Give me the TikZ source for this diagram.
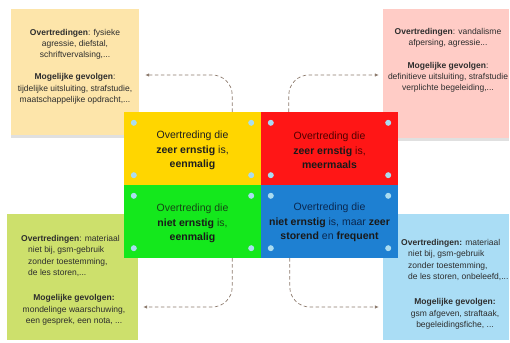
\documentclass[tikz,border=0pt]{standalone}
\usepackage{fontspec}
\setmainfont{Liberation Sans}
\usetikzlibrary{arrows.meta,shadows}
\definecolor{tlc}{RGB}{253,229,170}
\definecolor{trc}{RGB}{255,204,198}
\definecolor{blc}{RGB}{205,224,108}
\definecolor{brc}{RGB}{170,221,245}
\definecolor{yel}{RGB}{255,214,0}
\definecolor{red1}{RGB}{255,22,22}
\definecolor{grn}{RGB}{20,232,28}
\definecolor{blu}{RGB}{30,128,210}
\definecolor{dotc}{RGB}{170,220,240}
\definecolor{arr}{RGB}{140,122,108}
\definecolor{txt}{RGB}{45,45,45}
\begin{document}
\begin{tikzpicture}[x=1pt,y=1pt,
  sidebox/.style={minimum width=#1, inner sep=0pt, draw=none},
  shad/.style={drop shadow={shadow xshift=0pt,shadow yshift=-3pt,opacity=0.2,fill=black!60}},
  cell/.style={minimum width=137pt, minimum height=73pt, inner sep=0pt, draw=none},
  celltext/.style={align=center, font=\fontsize{10.5}{14.5}\selectfont, inner sep=0pt},
  sidetext/.style={font=\fontsize{8.5}{11.2}\selectfont, text=txt, inner sep=0pt},
  dot/.style={circle, fill=dotc, minimum size=6pt, inner sep=0pt},
  conn/.style={arr, dash pattern=on 3.5pt off 2.5pt, line width=0.7pt, rounded corners=20pt, -{Latex[length=4pt,width=3.5pt]}},
]
\useasboundingbox (0,0) rectangle (510,342);
% side boxes
\node[sidebox=128pt, minimum height=126pt, fill=tlc, shad] (tl) at (75,270) {};
\node[sidebox=126pt, minimum height=129pt, fill=trc, shad] (tr) at (446,268.5) {};
\node[sidebox=131pt, minimum height=126pt, fill=blc] (bl) at (72.5,65) {};
\node[sidebox=126pt, minimum height=126pt, fill=brc] (br) at (446,65) {};
% cells
\node[cell, fill=yel] (yc) at (192.5,193.5) {};
\node[cell, fill=red1] (rc) at (329.5,193.5) {};
\node[cell, fill=grn] (gc) at (192.5,120.5) {};
\node[cell, fill=blu] (bc) at (329.5,120.5) {};
% dots
\foreach \c in {yc,rc,gc,bc}{
  \node[dot] (\c-a) at ([xshift=10pt,yshift=-11pt]\c.north west) {};
  \node[dot] (\c-b) at ([xshift=-10pt,yshift=-11pt]\c.north east) {};
  \node[dot] (\c-c) at ([xshift=10pt,yshift=10pt]\c.south west) {};
  \node[dot] (\c-d) at ([xshift=-10pt,yshift=10pt]\c.south east) {};
}
% cell texts
\node[celltext, text=black!88] (yt) at ([yshift=-2pt]yc.center) {Overtreding die\\\textbf{zeer ernstig} is,\\\textbf{eenmalig}};
\node[celltext, text={rgb,255:red,80;green,0;blue,0}] (rt) at ([yshift=-2pt]rc.center) {Overtreding die\\\textbf{\color{black!90}zeer ernstig} is,\\\textbf{\color{black!90}meermaals}};
\node[celltext, text={rgb,255:red,20;green,70;blue,20}] (gt) at ([yshift=-2pt]gc.center) {Overtreding die\\\textbf{\color{black!90}niet ernstig} is,\\\textbf{\color{black!90}eenmalig}};
\node[celltext, text={rgb,255:red,10;green,40;blue,80}] (bt) at ([yshift=-1pt]bc.center) {Overtreding die\\\textbf{\color{black!90}niet ernstig} is, maar \textbf{\color{black!90}zeer}\\\textbf{\color{black!90}storend} en \textbf{\color{black!90}frequent}};
% side texts
\node[sidetext, align=center] (tlt) at (75,275.5) {\textbf{Overtredingen}: fysieke\\agressie, diefstal,\\schriftvervalsing,...\\[11.2pt]\textbf{Mogelijke gevolgen}:\\tijdelijke uitsluiting, strafstudie,\\maatschappelijke opdracht,...};
\node[sidetext, align=center] (trt) at (448,281.5) {\textbf{Overtredingen}: vandalisme\\afpersing, agressie...\\[11.2pt]\textbf{Mogelijke gevolgen}:\\definitieve uitsluiting, strafstudie\\verplichte begeleiding,...};
\node[sidetext, align=left, anchor=west] (blt1) at (21,86) {\textbf{Overtredingen}: materiaal\\\hspace*{7pt}niet bij, gsm-gebruik\\\hspace*{7pt}zonder toestemming,\\\hspace*{7pt}de les storen,...};
\node[sidetext, align=center] (blt2) at (74,32) {\textbf{Mogelijke gevolgen:}\\mondelinge waarschuwing,\\een gesprek, een nota, ...};
\node[sidetext, align=left, anchor=west] (brt1) at (401,82) {\textbf{Overtredingen:} materiaal\\\hspace*{7pt}niet bij, gsm-gebruik\\\hspace*{7pt}zonder toestemming,\\\hspace*{7pt}de les storen, onbeleefd,...};
\node[sidetext, align=center] (brt2) at (455,28) {\textbf{Mogelijke gevolgen:}\\gsm afgeven, straftaak,\\begeleidingsfiche, ...};
% connectors
\draw[conn] ([xshift=-29pt]yc.north east) |- ([xshift=6pt,yshift=-3pt]tl.east);
\draw[conn] ([xshift=28pt]rc.north west) |- ([xshift=-4pt,yshift=-1.5pt]tr.west);
\draw[conn] ([xshift=-29pt]gc.south east) |- ([xshift=5pt,yshift=-30pt]bl.east);
\draw[conn] ([xshift=29pt]bc.south west) |- ([xshift=-4pt,yshift=-30pt]br.west);
\end{tikzpicture}
\end{document}
